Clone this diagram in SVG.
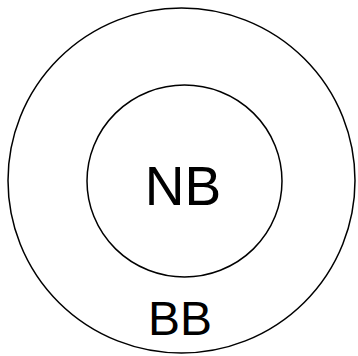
<svg xmlns="http://www.w3.org/2000/svg" width="358" height="356" viewBox="0 0 358 356">
<style>
.c{fill:none;stroke:#000;stroke-width:1.5}
.t{font-family:"Liberation Sans",Arial,sans-serif;fill:#000;text-anchor:middle}
</style>
<rect width="358" height="356" fill="#fff"/>
<g id="BB">
<ellipse class="c" cx="181.5" cy="180.5" rx="173.5" ry="172.5"/>
<text class="t" x="180" y="335" font-size="48">BB</text>
</g>
<g id="NB">
<ellipse class="c" cx="184.5" cy="181" rx="97.5" ry="96"/>
<text class="t" x="183" y="205" font-size="55">NB</text>
</g>
<g id="connectors"/>
</svg>
